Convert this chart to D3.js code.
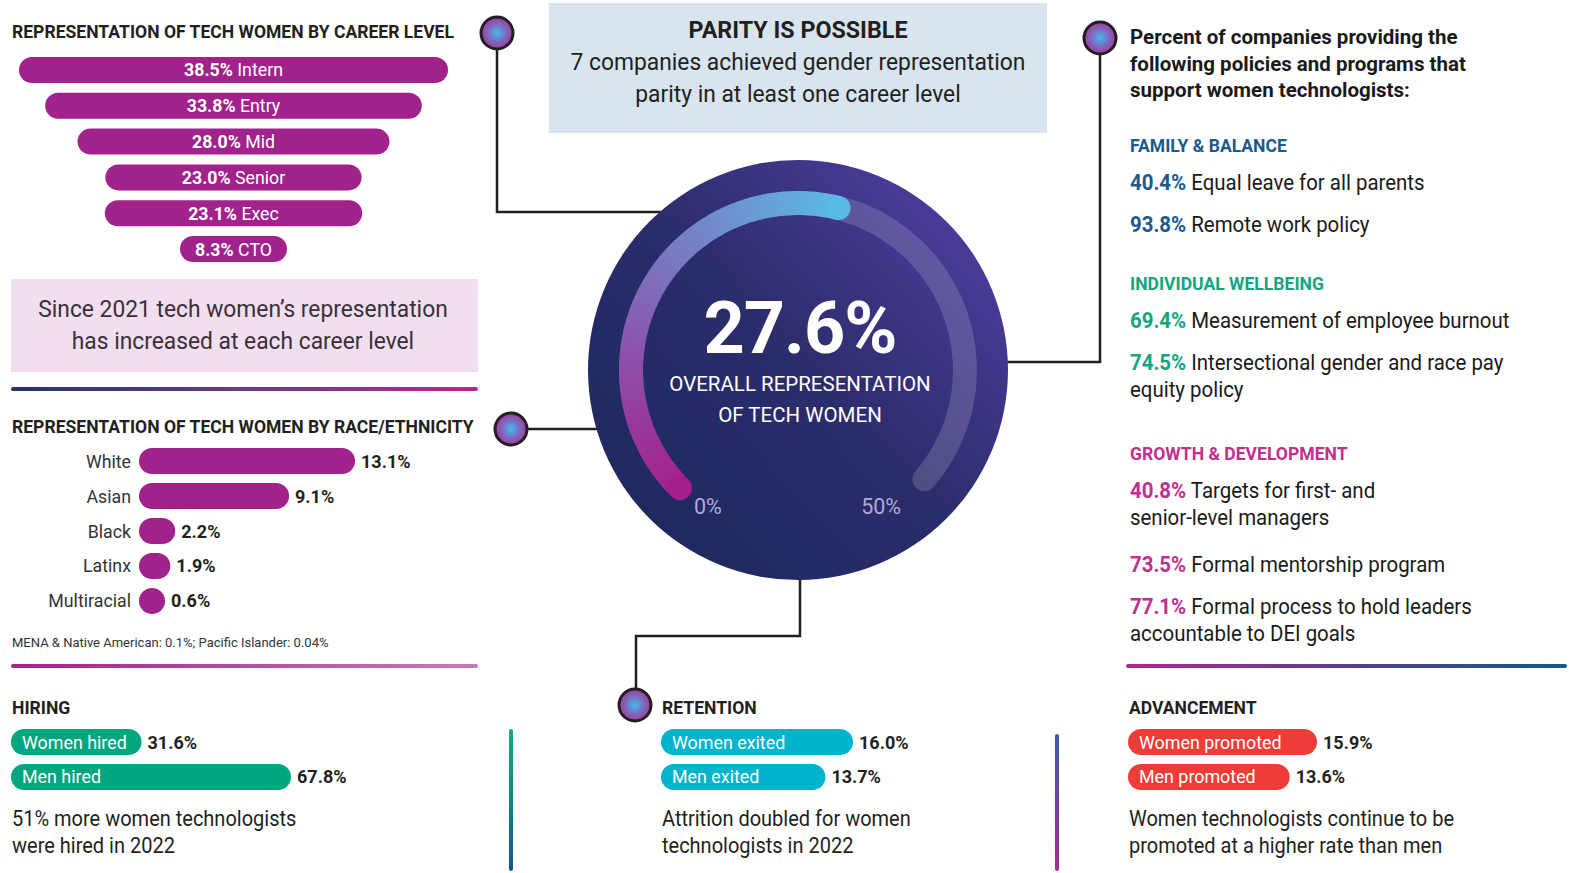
<!DOCTYPE html>
<html>
<head>
<meta charset="utf-8">
<script src="https://cdn.jsdelivr.net/npm/d3@7"></script>
<style>
body { margin: 0; background: #fff; }
text { font-family: Roboto, "Noto Sans", sans-serif; }
</style>
</head>
<body>
<div class="canvas"></div>
<script>
var w = 1569;
var h = 873;

// ---- data ----
var careerLevels = ["Intern", "Entry", "Mid", "Senior", "Exec", "CTO"];
var careerValues = [38.5, 33.8, 28.0, 23.0, 23.1, 8.3];

var raceGroups = ["White", "Asian", "Black", "Latinx", "Multiracial"];
var raceValues = [13.1, 9.1, 2.2, 1.9, 0.6];

var hiringLabels = ["Women hired", "Men hired"];
var hiringValues = [31.6, 67.8];
var retentionLabels = ["Women exited", "Men exited"];
var retentionValues = [16.0, 13.7];
var advancementLabels = ["Women promoted", "Men promoted"];
var advancementValues = [15.9, 13.6];

var overallValue = 27.6;
var gaugeTicks = [0, 50];

var policyGroups = ["FAMILY & BALANCE", "INDIVIDUAL WELLBEING", "GROWTH & DEVELOPMENT"];
var policyGroupOf = [0, 0, 1, 1, 2, 2, 2];
var policyValues = [40.4, 93.8, 69.4, 74.5, 40.8, 73.5, 77.1];
var policyLabels = [
    ["Equal leave for all parents"],
    ["Remote work policy"],
    ["Measurement of employee burnout"],
    ["Intersectional gender and race pay", "equity policy"],
    ["Targets for first- and", "senior-level managers"],
    ["Formal mentorship program"],
    ["Formal process to hold leaders", "accountable to DEI goals"]
];

var ink = "#231f20";
var magenta = "#a2228c";
var groupColors = ["#1b5a8c", "#14a57f", "#c0308f"];

var svg = d3.select(".canvas").append("svg")
    .attr("width", w)
    .attr("height", h);

var defs = svg.append("defs");

function linGrad(id, x1, y1, x2, y2, stops) {
    var g = defs.append("linearGradient").attr("id", id)
        .attr("x1", x1).attr("y1", y1).attr("x2", x2).attr("y2", y2);
    stops.forEach(function (s, i) {
        g.append("stop").attr("offset", (i / (stops.length - 1) * 100) + "%").attr("stop-color", s);
    });
}
linGrad("rule1", 0, 0, 1, 0, ["#25346a", "#6b3a8c", "#b3288f"]);
linGrad("rule2", 0, 0, 1, 0, ["#a3228c", "#c77ab6"]);
linGrad("rule3", 0, 0, 1, 0, ["#b1278f", "#5a3e8c", "#0d5a8a"]);
linGrad("vrule1", 0, 0, 0, 1, ["#1aa880", "#0e5a8c"]);
linGrad("vrule2", 0, 0, 0, 1, ["#3b5cae", "#ab2a92"]);
linGrad("disc", 0.15, 0.85, 0.9, 0.15, ["#1f2961", "#2c2d6c", "#4b3c9a"]);

var nodeGrad = defs.append("radialGradient").attr("id", "node");
nodeGrad.append("stop").attr("offset", "0%").attr("stop-color", "#45b9ec");
nodeGrad.append("stop").attr("offset", "55%").attr("stop-color", "#7a6cc0");
nodeGrad.append("stop").attr("offset", "100%").attr("stop-color", "#a6389c");

// squeeze a text horizontally, the original font is narrower than Roboto
function squeeze(t, f) {
    t.each(function () {
        var L = this.getComputedTextLength();
        d3.select(this).attr("textLength", L * f).attr("lengthAdjust", "spacingAndGlyphs");
    });
    return t;
}

function rich(g, x, y, parts, size, anchor) {
    var t = g.append("text").attr("x", x).attr("y", y)
        .attr("font-size", size).attr("text-anchor", anchor || "start");
    parts.forEach(function (p) {
        t.append("tspan").text(p.t)
            .attr("font-weight", p.bold ? 700 : 400)
            .attr("fill", p.fill || ink);
    });
    return t;
}

function lines(g, x, y, arr, size, step, opts) {
    opts = opts || {};
    arr.forEach(function (s, i) {
        var t = g.append("text").attr("x", x).attr("y", y + i * step)
            .attr("font-size", size)
            .attr("font-weight", opts.bold ? 700 : 400)
            .attr("fill", opts.fill || ink)
            .attr("text-anchor", opts.anchor || "start")
            .text(s);
        if (opts.squeeze) squeeze(t, opts.squeeze);
    });
}

function heading(g, x, y, s, size, fill) {
    return squeeze(g.append("text").attr("x", x).attr("y", y).attr("font-size", size || 18)
        .attr("font-weight", 700).attr("fill", fill || ink).text(s), 0.975);
}

// ---- connectors ----
var conn = svg.append("g").attr("fill", "none").attr("stroke", ink).attr("stroke-width", 2.5);
conn.append("path").attr("d", "M497,33 V212 H665");
conn.append("path").attr("d", "M511,429 H600");
conn.append("path").attr("d", "M1100,38 V362 H1000");
conn.append("path").attr("d", "M800,575 V636 H636 V705");

var nodes = [[497, 33], [511, 429], [1100, 38], [635, 705]];
svg.append("g").selectAll("circle").data(nodes).join("circle")
    .attr("cx", d => d[0]).attr("cy", d => d[1]).attr("r", 16)
    .attr("fill", "url(#node)").attr("stroke", ink).attr("stroke-width", 3);

// ---- career level funnel ----
var left = svg.append("g");
heading(left, 12, 38, "REPRESENTATION OF TECH WOMEN BY CAREER LEVEL");

var funnelX = d3.scaleLinear().domain([0, 38.5]).range([0, 429]);
var funnelY = d3.scaleBand().domain(careerLevels).range([57, 262]).paddingInner(0.274);
var funnelCx = 233.5;

careerLevels.forEach(function (lvl, i) {
    var bw = Math.max(funnelX(careerValues[i]), 107);
    var y = funnelY(lvl), bh = funnelY.bandwidth();
    left.append("rect").attr("x", funnelCx - bw / 2).attr("y", y)
        .attr("width", bw).attr("height", bh).attr("rx", bh / 2).attr("fill", magenta);
    squeeze(rich(left, funnelCx, y + bh / 2 + 6.5, [
        { t: careerValues[i].toFixed(1) + "%", bold: true, fill: "#fff" },
        { t: " " + lvl, fill: "#fff" }
    ], 18.5, "middle"), 0.96);
});

left.append("rect").attr("x", 11).attr("y", 279).attr("width", 467).attr("height", 93).attr("fill", "#f1dfef");
lines(left, 243, 317, ["Since 2021 tech women\u2019s representation", "has increased at each career level"], 23.5, 32,
    { anchor: "middle", fill: "#3a2f3a", squeeze: 0.97 });

left.append("rect").attr("x", 11).attr("y", 387).attr("width", 467).attr("height", 4).attr("rx", 2).attr("fill", "url(#rule1)");

// ---- race / ethnicity ----
heading(left, 12, 433, "REPRESENTATION OF TECH WOMEN BY RACE/ETHNICITY");

var raceX = d3.scaleLinear().domain([0, 13.1]).range([0, 216]);
var raceY = d3.scaleBand().domain(raceGroups).range([448, 614]).paddingInner(0.257);
var raceX0 = 139;
raceGroups.forEach(function (grp, i) {
    var bh = raceY.bandwidth();
    var bw = Math.max(raceX(raceValues[i]), bh);
    var y = raceY(grp);
    left.append("rect").attr("x", raceX0).attr("y", y).attr("width", bw).attr("height", bh)
        .attr("rx", bh / 2).attr("fill", magenta);
    squeeze(left.append("text").attr("x", raceX0 - 8).attr("y", y + bh / 2 + 6.5).attr("text-anchor", "end")
        .attr("font-size", 18.5).attr("fill", "#333").text(grp), 0.96);
    left.append("text").attr("x", raceX0 + bw + 6).attr("y", y + bh / 2 + 6.5)
        .attr("font-size", 18).attr("font-weight", 700).attr("fill", ink).text(raceValues[i].toFixed(1) + "%");
});
left.append("text").attr("x", 12).attr("y", 647).attr("font-size", 13).attr("fill", "#333")
    .text("MENA & Native American: 0.1%; Pacific Islander: 0.04%");

left.append("rect").attr("x", 11).attr("y", 664).attr("width", 467).attr("height", 4).attr("rx", 2).attr("fill", "url(#rule2)");

// ---- bottom bar blocks ----
function block(x0, title, labels, values, color, maxPx, note) {
    var g = svg.append("g");
    heading(g, x0 + 1, 714, title);
    var sx = d3.scaleLinear().domain([0, d3.max(values)]).range([0, maxPx]);
    var sy = d3.scaleBand().domain(labels).range([729, 790]).paddingInner(0.257);
    labels.forEach(function (lab, i) {
        var bh = sy.bandwidth(), y = sy(lab), bw = sx(values[i]);
        g.append("rect").attr("x", x0).attr("y", y).attr("width", bw).attr("height", bh)
            .attr("rx", bh / 2).attr("fill", color);
        squeeze(g.append("text").attr("x", x0 + 11).attr("y", y + bh / 2 + 6.5).attr("font-size", 19)
            .attr("fill", "#fff").text(lab), 0.94);
        g.append("text").attr("x", x0 + bw + 6).attr("y", y + bh / 2 + 6.5).attr("font-size", 18)
            .attr("font-weight", 700).attr("fill", ink).text(values[i].toFixed(1) + "%");
    });
    lines(g, x0 + 1, 826, note, 21.5, 27, { squeeze: 0.93 });
}
block(11, "HIRING", hiringLabels, hiringValues, "#00a67e", 280,
    ["51% more women technologists", "were hired in 2022"]);
block(661, "RETENTION", retentionLabels, retentionValues, "#00b4cb", 192,
    ["Attrition doubled for women", "technologists in 2022"]);
block(1128, "ADVANCEMENT", advancementLabels, advancementValues, "#ee3d38", 189,
    ["Women technologists continue to be", "promoted at a higher rate than men"]);

svg.append("rect").attr("x", 509).attr("y", 729).attr("width", 4).attr("height", 142).attr("rx", 2).attr("fill", "url(#vrule1)");
svg.append("rect").attr("x", 1055).attr("y", 734).attr("width", 4).attr("height", 137).attr("rx", 2).attr("fill", "url(#vrule2)");

// ---- policies ----
var right = svg.append("g");
lines(right, 1130, 44, ["Percent of companies providing the", "following policies and programs that",
    "support women technologists:"], 20.5, 26.5, { bold: true, fill: "#1a1a1a" });

var cy = 152;
policyGroups.forEach(function (grp, gi) {
    heading(right, 1130, cy, grp, 18, groupColors[gi]);
    cy += 38;
    policyValues.forEach(function (v, i) {
        if (policyGroupOf[i] !== gi) return;
        var labs = policyLabels[i];
        squeeze(rich(right, 1130, cy, [
            { t: v.toFixed(1) + "%", bold: true, fill: groupColors[gi] },
            { t: " " + labs[0], fill: "#1a1a1a" }
        ], 21.5), 0.95);
        for (var k = 1; k < labs.length; k++) {
            cy += 27;
            squeeze(right.append("text").attr("x", 1130).attr("y", cy).attr("font-size", 21.5)
                .attr("fill", "#1a1a1a").text(labs[k]), 0.95);
        }
        cy += labs.length > 1 ? 47 : 42;
    });
    cy += 16;
});

right.append("rect").attr("x", 1126).attr("y", 664).attr("width", 441).attr("height", 4).attr("rx", 2).attr("fill", "url(#rule3)");

// ---- parity box ----
var mid = svg.append("g");
mid.append("rect").attr("x", 549).attr("y", 3).attr("width", 498).attr("height", 130).attr("fill", "#d8e5ee");
squeeze(mid.append("text").attr("x", 798).attr("y", 38).attr("text-anchor", "middle").attr("font-size", 24)
    .attr("font-weight", 700).attr("fill", ink).text("PARITY IS POSSIBLE"), 0.97);
lines(mid, 798, 70, ["7 companies achieved gender representation", "parity in at least one career level"], 24, 32,
    { anchor: "middle", squeeze: 0.95 });

// ---- gauge ----
var cx = 798, cyc = 370;
var gauge = svg.append("g").attr("transform", "translate(" + cx + "," + cyc + ")");
gauge.append("circle").attr("r", 210).attr("fill", "url(#disc)");

var gaugeScale = d3.scaleLinear().domain([0, 50]).range([-Math.PI * 0.75, Math.PI * 0.75]);
var rIn = 155, rOut = 179;
var arc = d3.arc().innerRadius(rIn).outerRadius(rOut);

gauge.append("path")
    .attr("d", arc.cornerRadius(12)({ startAngle: gaugeScale(0), endAngle: gaugeScale(50) }))
    .attr("fill", "rgba(255,255,255,0.16)");

var col = d3.interpolateRgb("#a51e8c", "#5bb9e8");
var n = 80;
var a0 = gaugeScale(0), a1 = gaugeScale(overallValue);
arc.cornerRadius(0);
for (var i = 0; i < n; i++) {
    var s = a0 + (a1 - a0) * i / n, e = a0 + (a1 - a0) * (i + 1) / n;
    gauge.append("path").attr("d", arc({ startAngle: s, endAngle: e + 0.004 }))
        .attr("fill", col((i + 0.5) / n));
}
[[a0, col(0)], [a1, col(1)]].forEach(function (c) {
    var rm = (rIn + rOut) / 2;
    gauge.append("circle").attr("cx", rm * Math.sin(c[0])).attr("cy", -rm * Math.cos(c[0]))
        .attr("r", (rOut - rIn) / 2).attr("fill", c[1]);
});

gauge.append("text").attr("x", 2).attr("y", -17).attr("text-anchor", "middle")
    .attr("font-family", "Inter, sans-serif").attr("font-weight", 700).attr("font-size", 72)
    .attr("letter-spacing", -1)
    .attr("fill", "#fff").text(overallValue.toFixed(1) + "%");
gauge.selectAll("text.sub").data(["OVERALL REPRESENTATION", "OF TECH WOMEN"]).join("text")
    .attr("class", "sub").attr("x", 2).attr("y", (d, i) => 21 + i * 31).attr("text-anchor", "middle")
    .attr("font-family", "Inter, sans-serif").attr("font-size", 20.5).attr("fill", "#fff").text(d => d);

gauge.selectAll("text.tick").data(gaugeTicks).join("text")
    .attr("class", "tick")
    .attr("x", d => 167 * Math.sin(gaugeScale(d)) + (d === 0 ? 28 : -35))
    .attr("y", d => -167 * Math.cos(gaugeScale(d)) + 26)
    .attr("text-anchor", "middle").attr("font-size", 21.5).attr("fill", "#aeaad6")
    .text(d => d + "%");
</script>
</body>
</html>
